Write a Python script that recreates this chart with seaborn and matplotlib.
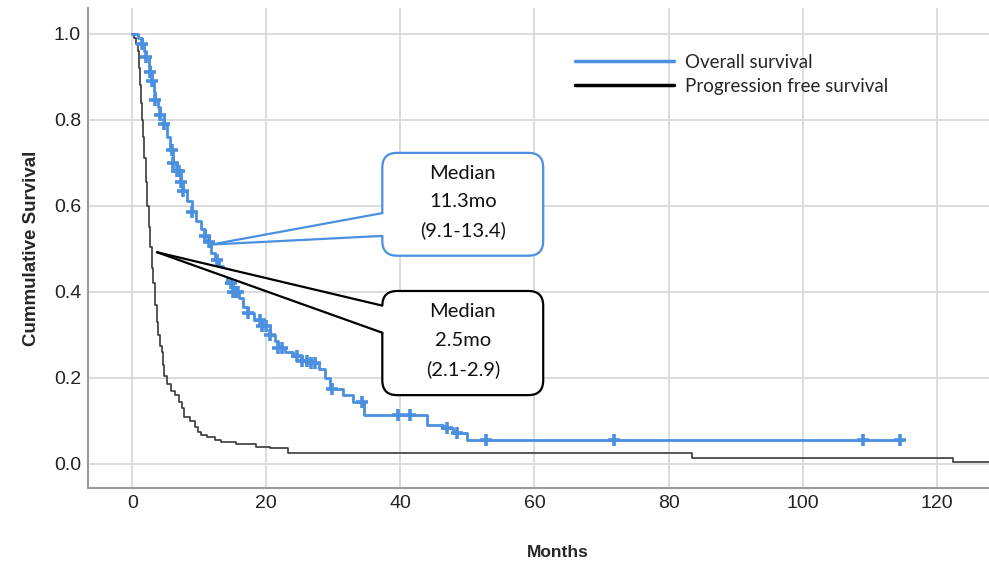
import numpy as np
import pandas as pd
import seaborn as sns
import matplotlib.pyplot as plt
from matplotlib.patches import FancyBboxPatch, Polygon

# Overall survival: step knots (months, survival)
os_time = [0, 0.8, 1.4, 1.8, 2.1, 2.5, 2.7, 2.9, 3.2, 3.4, 3.8, 4.2, 4.8, 5.2, 5.6,
           6.1, 6.7, 7.2, 7.6, 8.2, 8.9, 9.5, 10.2, 10.9, 11.4, 11.8, 12.3, 12.9,
           13.6, 14.2, 15.1, 15.9, 16.5, 17.3, 18.2, 19.4, 20.6, 21.3, 21.8, 22.8,
           24.0, 25.3, 26.6, 27.8, 28.7, 29.5, 31.5, 33.0, 34.5, 43.9, 46.3, 47.9,
           49.9, 114.5]
os_surv = [1.0, 0.99, 0.975, 0.96, 0.945, 0.925, 0.91, 0.89, 0.865, 0.845, 0.83,
           0.81, 0.79, 0.76, 0.73, 0.70, 0.68, 0.655, 0.635, 0.61, 0.585, 0.565,
           0.545, 0.53, 0.515, 0.49, 0.475, 0.46, 0.44, 0.42, 0.40, 0.385, 0.365,
           0.35, 0.335, 0.32, 0.30, 0.285, 0.27, 0.26, 0.25, 0.24, 0.235, 0.22,
           0.20, 0.175, 0.16, 0.143, 0.114, 0.091, 0.083, 0.072, 0.056, 0.056]
os_censored = [1.4, 2.1, 2.7, 3.0, 3.4, 4.2, 4.8, 5.9, 6.1, 6.7, 6.9, 7.2, 7.6, 8.9,
               10.9, 11.4, 12.6, 14.8, 15.1, 15.5, 15.8, 17.3, 19.0, 19.4, 19.9,
               20.6, 21.8, 22.4, 24.6, 25.3, 26.0, 26.6, 27.3, 29.8, 34.3, 39.7,
               41.5, 47.0, 48.4, 52.7, 71.8, 109.0, 114.5]

# Progression free survival
pfs_time = [0, 0.3, 0.5, 0.8, 1.0, 1.2, 1.35, 1.45, 1.6, 1.8, 2.0, 2.2, 2.45, 2.7,
            2.9, 3.1, 3.4, 3.65, 3.9, 4.2, 4.4, 4.6, 4.8, 5.2, 5.8, 6.4, 7.0, 7.4,
            7.7, 8.6, 9.3, 9.8, 10.3, 11.2, 12.3, 13.3, 15.5, 18.5, 20.5, 23.2,
            83.5, 122.5, 135]
pfs_surv = [1.0, 0.99, 0.975, 0.96, 0.92, 0.88, 0.84, 0.80, 0.76, 0.71, 0.655,
            0.60, 0.55, 0.505, 0.455, 0.42, 0.37, 0.33, 0.30, 0.275, 0.26, 0.23,
            0.205, 0.185, 0.17, 0.16, 0.145, 0.13, 0.11, 0.10, 0.085, 0.075,
            0.068, 0.062, 0.056, 0.05, 0.046, 0.04, 0.036, 0.025, 0.013, 0.004,
            0.004]

x_ticks = [0, 20, 40, 60, 80, 100, 120]
y_ticks = [0.0, 0.2, 0.4, 0.6, 0.8, 1.0]

os_text = "Median\n11.3mo\n(9.1-13.4)"
pfs_text = "Median\n2.5mo\n(2.1-2.9)"

blue = "#4a8fe0"
dark = "#3a3a3a"

sns.set_style("whitegrid")
plt.rcParams['font.family'] = ['Liberation Sans', 'DejaVu Sans']

fig = plt.figure(figsize=(9.89, 5.61), dpi=100)
ax = fig.add_axes([0.089, 0.130, 0.95, 0.856])

os_df = pd.DataFrame({"Months": os_time, "Survival": os_surv})
pfs_df = pd.DataFrame({"Months": pfs_time, "Survival": pfs_surv})

sns.lineplot(data=os_df, x="Months", y="Survival", drawstyle="steps-post",
             color=blue, linewidth=2, ax=ax, label="Overall survival", zorder=4)
sns.lineplot(data=pfs_df, x="Months", y="Survival", drawstyle="steps-post",
             color=dark, linewidth=1.2, ax=ax, label="Progression free survival",
             zorder=3)

# censor marks sit on the step curve
idx = np.searchsorted(os_time, os_censored, side="right") - 1
cens_df = pd.DataFrame({"Months": os_censored,
                        "Survival": np.array(os_surv)[idx]})
sns.scatterplot(data=cens_df, x="Months", y="Survival", marker="+", s=70,
                color=blue, linewidth=2.6, ax=ax, zorder=5, legend=False)

ax.set_xlim(-6.6, -6.6 + (127.8 + 6.6) * 0.95 / 0.911)
ax.set_ylim(-0.056, 1.06)
ax.set_xticks(x_ticks)
ax.set_yticks(y_ticks)
ax.set_yticklabels([f"{v:.1f}" for v in y_ticks])
ax.tick_params(axis="both", labelsize=14, length=0, pad=5, colors="#222222")
ax.set_xlabel("Months", fontsize=12.5, fontweight="bold", labelpad=24)
ax.set_ylabel("Cummulative Survival", fontsize=13.5, fontweight="bold", labelpad=10)
ax.grid(True, color="#d6d6d6", linewidth=1.2)
for side in ["top", "right"]:
    ax.spines[side].set_visible(False)
for side in ["left", "bottom"]:
    ax.spines[side].set_color("#9a9a9a")
    ax.spines[side].set_linewidth(1.5)

leg = ax.legend(loc="upper left", bbox_to_anchor=(0.50, 0.94), frameon=False,
                handlelength=5.3, labelspacing=0.4, handletextpad=0.6,
                prop={"family": ["Lato", "DejaVu Sans"], "size": 13.5})
for h in leg.legend_handles:
    h.set_linewidth(2.5)
leg.legend_handles[1].set_color("black")

# callout boxes
aspect = (1 / 430) / (1 / 6.7)


def callout(x0, x1, y0, y1, tip, y_a, y_b, color, text):
    box = FancyBboxPatch((x0, y0), x1 - x0, y1 - y0,
                         boxstyle="round,pad=0,rounding_size=2.2",
                         mutation_aspect=aspect, facecolor="white",
                         edgecolor=color, linewidth=1.6, zorder=6)
    ax.add_patch(box)
    wedge = Polygon([tip, (x0 + 0.4, y_a), (x0 + 0.4, y_b)], closed=True,
                    facecolor="white", edgecolor="none", zorder=7)
    ax.add_patch(wedge)
    ax.plot([tip[0], x0], [tip[1], y_a], color=color, linewidth=1.6, zorder=8)
    ax.plot([tip[0], x0], [tip[1], y_b], color=color, linewidth=1.6, zorder=8)
    ax.text((x0 + x1) / 2, (y0 + y1) / 2 + 0.005, text, ha="center", va="center",
            fontsize=14.5, linespacing=1.8, family=["Lato", "DejaVu Sans"],
            color="#111111", zorder=9)


callout(37.3, 61.3, 0.484, 0.723, (11.8, 0.51), 0.583, 0.530, blue, os_text)
callout(37.3, 61.3, 0.160, 0.402, (3.7, 0.492), 0.368, 0.305, "black", pfs_text)

fig.savefig("out.png", dpi=100)
